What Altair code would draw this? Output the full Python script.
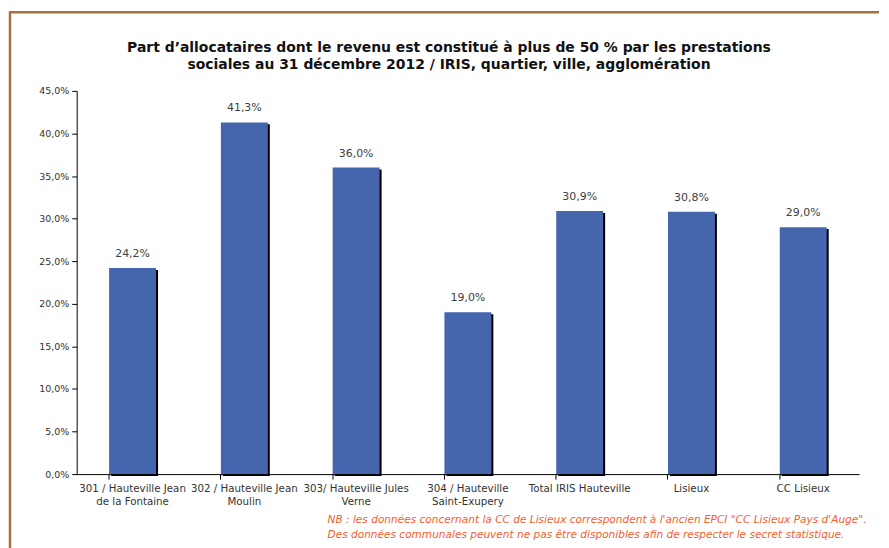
import altair as alt
import pandas as pd

categories = [
    "301 / Hauteville Jean|de la Fontaine",
    "302 / Hauteville Jean|Moulin",
    "303/ Hauteville Jules|Verne",
    "304 / Hauteville|Saint-Exupery",
    "Total IRIS Hauteville",
    "Lisieux",
    "CC Lisieux",
]
values = [24.2, 41.3, 36.0, 19.0, 30.9, 30.8, 29.0]
title_lines = [
    "Part d\u2019allocataires dont le revenu est constitué à plus de 50 % par les prestations",
    "sociales au 31 décembre 2012 / IRIS, quartier, ville, agglomération",
]
note_lines = [
    "NB : les données concernant la CC de Lisieux correspondent à l'ancien EPCI \"CC Lisieux Pays d'Auge\".",
    "Des données communales peuvent ne pas être disponibles afin de respecter le secret statistique.",
]

W, H = 786, 385
FONT = "DejaVu Sans"

df = pd.DataFrame({"cat": categories, "val": values})
df["lab"] = [f"{v:.1f}".replace(".", ",") + "%" for v in values]

x = alt.X(
    "cat:N",
    sort=categories,
    scale=alt.Scale(paddingInner=0.58, paddingOuter=0.29),
    axis=alt.Axis(
        title=None,
        labelAngle=0,
        labelExpr="split(datum.label, '|')",
        bandPosition=0,
        tickSize=5,
        tickColor="black",
        domainColor="black",
        labelFont=FONT,
        labelFontSize=10.3,
        labelColor="#333333",
        labelPadding=4,
        labelLineHeight=14,
        labelBaseline="top",
    ),
)
y = alt.Y(
    "val:Q",
    scale=alt.Scale(domain=[0, 45], nice=False),
    axis=alt.Axis(
        title=None,
        values=[0, 5, 10, 15, 20, 25, 30, 35, 40, 45],
        labelExpr="replace(format(datum.value, '.1f'), '.', ',') + '%'",
        grid=False,
        tickSize=5,
        tickColor="black",
        domainColor="black",
        labelFont=FONT,
        labelFontSize=9.5,
        labelColor="#333333",
        labelPadding=3,
    ),
)

base = alt.Chart(df)
shadow = base.mark_bar(color="black", xOffset=2, x2Offset=2, yOffset=2).encode(x=x, y=y)
bars = base.mark_bar(color="#4565AD").encode(x=x, y=y)
labels = base.mark_text(
    dy=-9, font=FONT, fontSize=11, color="#404040", baseline="bottom"
).encode(x=x, y=y, text="lab:N")

tdf = pd.DataFrame({"t": title_lines, "i": [0, 1]})
title1 = alt.Chart(tdf.iloc[[0]]).mark_text(
    font=FONT, fontSize=14, fontWeight="bold", color="#111111", align="center", baseline="middle"
).encode(x=alt.value(374), y=alt.value(-43), text="t:N")
title2 = alt.Chart(tdf.iloc[[1]]).mark_text(
    font=FONT, fontSize=14, fontWeight="bold", color="#111111", align="center", baseline="middle"
).encode(x=alt.value(374), y=alt.value(-26), text="t:N")

ndf = pd.DataFrame({"t": note_lines})
note1 = alt.Chart(ndf.iloc[[0]]).mark_text(
    font=FONT, fontSize=10.6, fontStyle="italic", color="#F2602F", align="left", baseline="middle"
).encode(x=alt.value(252), y=alt.value(H + 46), text="t:N")
note2 = alt.Chart(ndf.iloc[[1]]).mark_text(
    font=FONT, fontSize=10.6, fontStyle="italic", color="#F2602F", align="left", baseline="middle"
).encode(x=alt.value(252), y=alt.value(H + 61), text="t:N")

border_left = alt.Chart(tdf.iloc[[0]]).mark_rule(color="#A87040", strokeWidth=2.5).encode(
    x=alt.value(-67), y=alt.value(-80), y2=alt.value(H + 75)
)
border_top = alt.Chart(tdf.iloc[[0]]).mark_rule(color="#A87040", strokeWidth=2.5).encode(
    x=alt.value(-67), x2=alt.value(W + 20), y=alt.value(-79)
)

chart = (
    alt.layer(border_left, border_top, shadow, bars, labels, title1, title2, note1, note2)
    .properties(width=W, height=H, padding=0, background="white")
    .configure_view(stroke=None)
)

chart.save("out.html", embed_options={"renderer": "svg", "actions": False})
